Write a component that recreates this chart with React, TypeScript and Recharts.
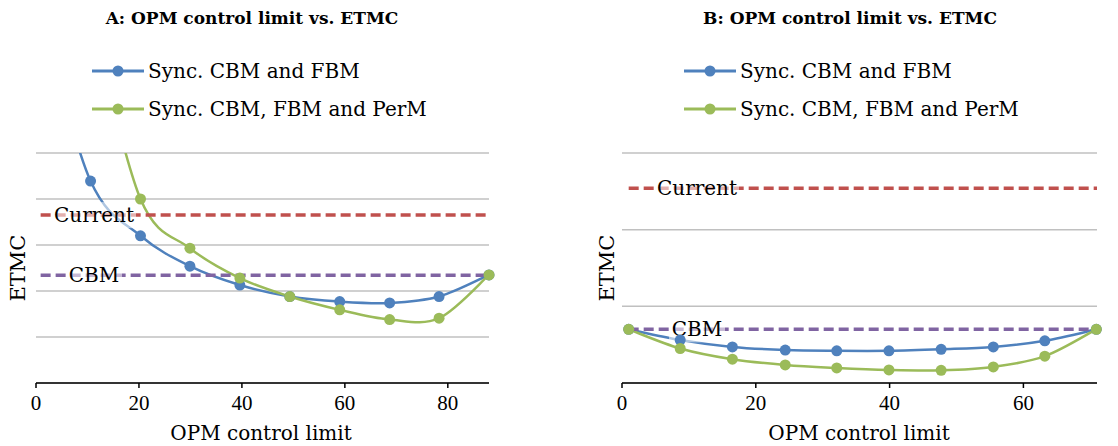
import { LineChart, Line, XAxis, YAxis, CartesianGrid, ReferenceLine } from 'recharts'

// Panel A
const xA = [0.9, 10.6, 20.3, 29.9, 39.6, 49.3, 59.0, 68.7, 78.3, 88.0]
const syncFbmA = [8, 4.39, 3.2, 2.54, 2.13, 1.88, 1.77, 1.74, 1.88, 2.35]
const syncPermA = [null, 8, 4.0, 2.93, 2.28, 1.88, 1.59, 1.38, 1.41, 2.35]
const currentA = 3.65
const cbmA = 2.34
const ticksXA = [0, 20, 40, 60, 80]
const ticksYA = [0, 1, 2, 3, 4, 5]

// Panel B
const xB = [1.0, 8.7, 16.5, 24.4, 32.1, 39.9, 47.7, 55.5, 63.2, 70.9]
const syncFbmB = [0.7, 0.56, 0.47, 0.43, 0.42, 0.42, 0.44, 0.47, 0.55, 0.7]
const syncPermB = [0.7, 0.45, 0.31, 0.235, 0.196, 0.17, 0.166, 0.21, 0.35, 0.7]
const currentB = 2.54
const cbmB = 0.7
const ticksXB = [0, 20, 40, 60]
const ticksYB = [0, 1, 2, 3]

const BLUE = '#4F81BD'
const GREEN = '#9BBB59'
const RED = '#C0504D'
const PURPLE = '#8064A2'
const SERIF = '"DejaVu Serif", serif'

// Excel-like smoothed line (Catmull-Rom through the points)
const excelSmooth = (context: any) => {
  let xs: number[] = []
  let ys: number[] = []
  return {
    areaStart() {},
    areaEnd() {},
    lineStart() {
      xs = []
      ys = []
    },
    lineEnd() {
      const n = xs.length
      if (!n) return
      context.moveTo(xs[0], ys[0])
      for (let i = 0; i < n - 1; i++) {
        const p = Math.max(i - 1, 0)
        const q = Math.min(i + 2, n - 1)
        context.bezierCurveTo(
          xs[i] + (xs[i + 1] - xs[p]) / 6,
          ys[i] + (ys[i + 1] - ys[p]) / 6,
          xs[i + 1] - (xs[q] - xs[i]) / 6,
          ys[i + 1] - (ys[q] - ys[i]) / 6,
          xs[i + 1],
          ys[i + 1],
        )
      }
    },
    point(x: number, y: number) {
      xs.push(+x)
      ys.push(+y)
    },
  }
}

const LineLabel = ({ viewBox, text, cx, w }: any) => {
  const y = viewBox.y
  return (
    <g>
      <rect x={cx - w / 2} y={y - 13} width={w} height={26} fill="#fff" fillOpacity={0.55} />
      <text x={cx} y={y} dy={7} textAnchor="middle" fontFamily={SERIF} fontSize={20} fill="#000">
        {text}
      </text>
    </g>
  )
}

interface PanelProps {
  xs: number[]
  fbm: (number | null)[]
  perm: (number | null)[]
  current: number
  cbm: number
  ticksX: number[]
  ticksY: number[]
  xMax: number
  width: number
  marginLeft: number
  marginRight: number
  labelCx: number
}

function Panel(p: PanelProps) {
  const data = p.xs.map((x, i) => ({ x, fbm: p.fbm[i], perm: p.perm[i] }))
  const yMax = p.ticksY[p.ticksY.length - 1]
  return (
    <LineChart
      width={p.width}
      height={446}
      data={data}
      margin={{ top: 153, right: p.marginRight, left: p.marginLeft, bottom: 33 }}
    >
      <CartesianGrid horizontal vertical={false} stroke="#c0c0c0" strokeWidth={1.5} />
      <XAxis
        dataKey="x"
        type="number"
        domain={[0, p.xMax]}
        ticks={p.ticksX}
        height={30}
        stroke="#000"
        strokeWidth={1.5}
        tickSize={5}
        tickMargin={7}
        tick={{ fill: '#000', fontSize: 21, fontFamily: '"Liberation Serif", serif' }}
      />
      <YAxis hide type="number" domain={[0, yMax]} ticks={p.ticksY} allowDataOverflow />
      <Line
        dataKey="fbm"
        type={excelSmooth as any}
        stroke={BLUE}
        strokeWidth={2.5}
        dot={{ r: 5.5, fill: BLUE, stroke: BLUE, strokeWidth: 0 }}
        isAnimationActive={false}
      />
      <Line
        dataKey="perm"
        type={excelSmooth as any}
        stroke={GREEN}
        strokeWidth={2.5}
        dot={{ r: 5.5, fill: GREEN, stroke: GREEN, strokeWidth: 0 }}
        isAnimationActive={false}
      />
      <ReferenceLine
        segment={[{ x: p.xs[0], y: p.current }, { x: p.xMax, y: p.current }]}
        stroke={RED}
        strokeWidth={3.5}
        strokeDasharray="10 5"
        label={(props: any) => <LineLabel {...props} text="Current" cx={p.labelCx} w={84} />}
      />
      <ReferenceLine
        segment={[{ x: p.xs[0], y: p.cbm }, { x: p.xMax, y: p.cbm }]}
        stroke={PURPLE}
        strokeWidth={3.5}
        strokeDasharray="10 5"
        label={(props: any) => <LineLabel {...props} text="CBM" cx={p.labelCx} w={56} />}
      />
    </LineChart>
  )
}

const abs = (left: number, top: number): React.CSSProperties => ({
  position: 'absolute',
  left,
  top,
  whiteSpace: 'nowrap',
  fontFamily: SERIF,
  lineHeight: '24px',
})

function LegendRow({ left, top, color, text }: { left: number; top: number; color: string; text: string }) {
  return (
    <div style={{ ...abs(left, top), display: 'flex', alignItems: 'center', fontSize: 20 }}>
      <svg width={52} height={24} style={{ marginRight: 4 }}>
        <line x1={0} y1={12} x2={52} y2={12} stroke={color} strokeWidth={3} />
        <circle cx={26} cy={12} r={5.5} fill={color} />
      </svg>
      <span>{text}</span>
    </div>
  )
}

function Title({ cx, text }: { cx: number; text: string }) {
  return (
    <div style={{ ...abs(cx - 200, 6), width: 400, textAlign: 'center', fontWeight: 'bold', fontSize: 17 }}>
      {text}
    </div>
  )
}

function AxisTitle({ cx, text }: { cx: number; text: string }) {
  return (
    <div style={{ ...abs(cx - 150, 421), width: 300, textAlign: 'center', fontSize: 20 }}>{text}</div>
  )
}

function YTitle({ cx }: { cx: number }) {
  return (
    <div
      style={{
        ...abs(cx - 50, 256),
        width: 100,
        textAlign: 'center',
        fontSize: 21,
        transform: 'rotate(-90deg)',
      }}
    >
      ETMC
    </div>
  )
}

export default function App() {
  return (
    <div style={{ position: 'absolute', left: 0, top: 0, width: 1118, height: 446, background: '#fff' }}>
      <div style={{ position: 'absolute', left: 0, top: 0 }}>
        <Panel
          xs={xA}
          fbm={syncFbmA}
          perm={syncPermA}
          current={currentA}
          cbm={cbmA}
          ticksX={ticksXA}
          ticksY={ticksYA}
          xMax={88}
          width={560}
          marginLeft={36}
          marginRight={71}
          labelCx={94}
        />
      </div>
      <div style={{ position: 'absolute', left: 560, top: 0 }}>
        <Panel
          xs={xB}
          fbm={syncFbmB}
          perm={syncPermB}
          current={currentB}
          cbm={cbmB}
          ticksX={ticksXB}
          ticksY={ticksYB}
          xMax={71}
          width={558}
          marginLeft={62}
          marginRight={21}
          labelCx={137}
        />
      </div>
      <Title cx={252} text="A: OPM control limit vs. ETMC" />
      <Title cx={850} text="B: OPM control limit vs. ETMC" />
      <LegendRow left={92} top={59} color={BLUE} text="Sync. CBM and FBM" />
      <LegendRow left={92} top={96.5} color={GREEN} text="Sync. CBM, FBM and PerM" />
      <LegendRow left={684} top={59} color={BLUE} text="Sync. CBM and FBM" />
      <LegendRow left={684} top={96.5} color={GREEN} text="Sync. CBM, FBM and PerM" />
      <YTitle cx={18} />
      <YTitle cx={607} />
      <AxisTitle cx={261} text="OPM control limit" />
      <AxisTitle cx={859} text="OPM control limit" />
    </div>
  )
}
